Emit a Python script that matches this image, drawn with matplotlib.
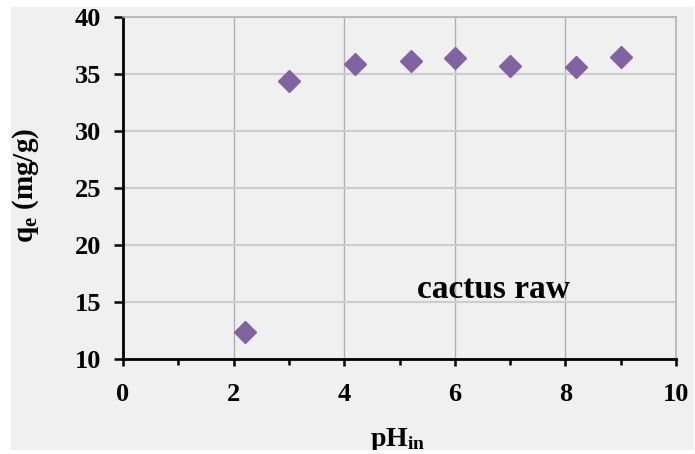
import matplotlib
matplotlib.use("Agg")
import matplotlib.pyplot as plt
from matplotlib.patches import Rectangle
from matplotlib.ticker import MultipleLocator

ph = [2.2, 3.0, 4.2, 5.2, 6.0, 7.0, 8.2, 9.0]
qe = [12.4, 34.4, 35.9, 36.1, 36.4, 35.7, 35.6, 36.5]

plt.rcParams['font.family'] = ['Liberation Serif', 'DejaVu Serif']
plt.rcParams['font.weight'] = 'bold'
plt.rcParams['mathtext.fontset'] = 'custom'
plt.rcParams['mathtext.rm'] = 'Liberation Serif:bold'
plt.rcParams['mathtext.it'] = 'Liberation Serif:bold'
plt.rcParams['mathtext.bf'] = 'Liberation Serif:bold'

W, H = 695, 454
bg = '#f0f0f0'
fig = plt.figure(figsize=(W/100, H/100), dpi=100, facecolor='white')
# grey chart area, with a white frame round it
fig.patches.append(Rectangle((11/W, 4/H), 683/W, 443/H, transform=fig.transFigure,
                             facecolor=bg, edgecolor='none', zorder=-10))
fig.patches.append(Rectangle((0, 0), 1, 4/H, transform=fig.transFigure,
                             facecolor='white', edgecolor='none', zorder=10))
ax = fig.add_axes([123/W, 1-359/H, 553/W, 342/H])
ax.set_facecolor(bg)

ax.plot(ph, qe, linestyle='none', marker='D', markersize=11, color='#8064a2',
        markeredgecolor='#8064a2', zorder=3, clip_on=False)

ax.set_xlim(0, 10)
ax.set_ylim(10, 40)
ax.xaxis.set_major_locator(MultipleLocator(2))
ax.xaxis.set_minor_locator(MultipleLocator(1))
ax.yaxis.set_major_locator(MultipleLocator(5))

ax.grid(True, axis='x', which='major', color='#b0b0b0', linewidth=1.0)
ax.grid(True, axis='y', which='major', color='#cdcdcd', linewidth=1.6)
ax.set_axisbelow(True)

for s in ['left', 'bottom']:
    ax.spines[s].set_color('black')
    ax.spines[s].set_linewidth(2.0)
for s in ['top', 'right']:
    ax.spines[s].set_color('#b4b4b4')
    ax.spines[s].set_linewidth(1.2)

ax.tick_params(axis='both', which='major', direction='out', width=1.8,
               labelsize=19, colors='black')
ax.tick_params(axis='y', which='major', length=6.5, pad=9)
ax.tick_params(axis='x', which='major', length=5, pad=12)
ax.tick_params(axis='x', which='minor', direction='out', length=4, width=1.8)

fig.text(26/W, 1-185/H, 'q$_{\\mathregular{e}}$ (mg/g)', fontsize=21, fontweight='bold',
         rotation=90, ha='center', va='center')
fig.text(398/W, 8/H, 'pH$_{\\mathregular{in}}$', fontsize=20, fontweight='bold',
         ha='center', va='baseline')

ax.text(6.69, 15.35, 'cactus raw', fontsize=24, fontweight='bold', ha='center', va='baseline')

fig.savefig('out.png', dpi=100, facecolor='white')
